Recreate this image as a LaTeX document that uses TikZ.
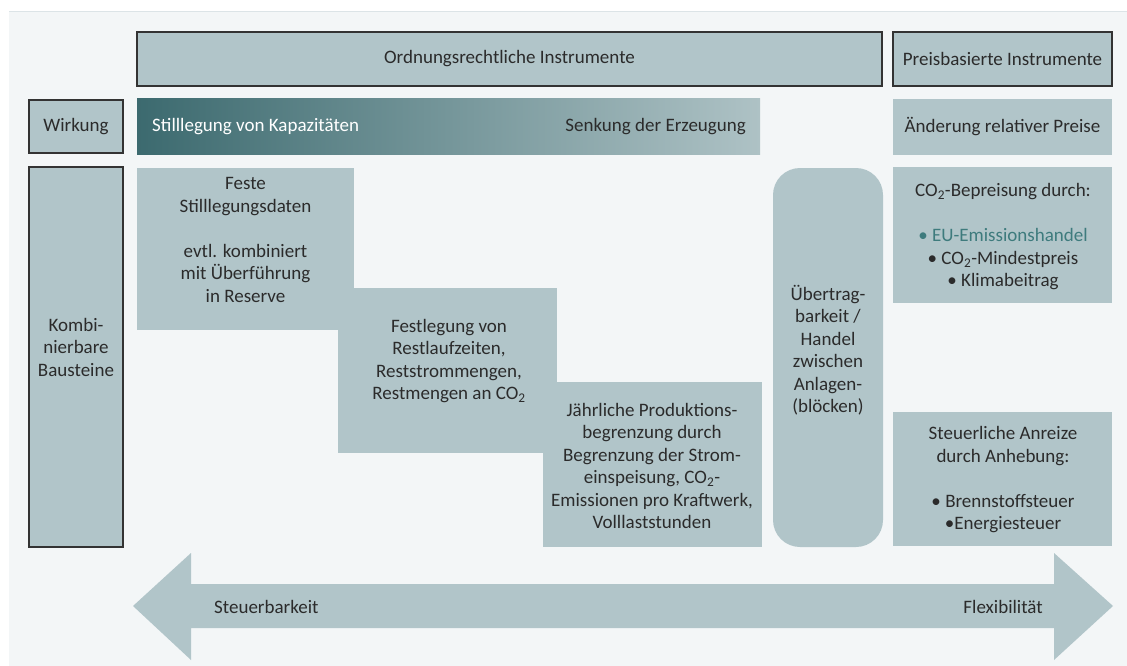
\documentclass[tikz,border=0pt]{standalone}
\usepackage{fontspec}
\setmainfont{Carlito}
\usepackage{tikz}
\usepackage{xcolor}

\definecolor{feldgrau}{HTML}{B1C5C9}
\definecolor{grund}{HTML}{F3F6F7}
\definecolor{linie}{HTML}{DCE4E7}
\definecolor{dunkel}{HTML}{3C6A6F}
\definecolor{hell}{HTML}{AEC2C5}
\definecolor{textgrau}{HTML}{2B2B2B}
\definecolor{rahmengrau}{HTML}{333333}
\definecolor{handel}{HTML}{3E7B7D}

\newcommand{\cozwei}{CO\textsubscript{2}}

\tikzset{
  feld/.style={fill=feldgrau, inner sep=0pt, outer sep=0pt, anchor=north west},
  rahmen/.style={feld, draw=rahmengrau, line width=1.5pt},
  txt/.style={font=\fontsize{19}{22.5}\selectfont, text=textgrau, align=center, inner sep=0pt}
}

\begin{document}
\begin{tikzpicture}[x=1pt,y=-1pt]
\useasboundingbox (0,0) rectangle (1127,666);
\fill [white] (0,0) rectangle (1127,666);
\fill [grund] (9,12) rectangle (1127,666);
\draw [linie, line width=1pt] (9,12) -- (1127,12);

% Kopfzeile
\node [rahmen, txt, minimum width=745pt, minimum height=54pt] (ordnung) at (137,32) {Ordnungsrechtliche Instrumente};
\node [rahmen, txt, minimum width=219pt, minimum height=54pt] (preis) at (893,32) {Preisbasierte Instrumente};

% Wirkung
\node [rahmen, txt, minimum width=94pt, minimum height=53pt] (wirkung) at (29,100) {Wirkung};
\node [feld, left color=dunkel, right color=hell, minimum width=623pt, minimum height=56pt] (balken) at (137,99) {};
\node [txt, text=white, anchor=west] (stilllegung) at (152,127) {Stilllegung von Kapazitäten};
\node [txt, anchor=east] (senkung) at (746,127) {Senkung der Erzeugung};
\node [feld, txt, anchor=north west, minimum width=219pt, minimum height=56pt] (aenderung) at (893,99) {Änderung relativer Preise};

% Bausteine
\node [rahmen, minimum width=94pt, minimum height=380pt] (komb) at (29,167) {};
\node [txt] (kombtxt) at (76,347) {Kombi-\\nierbare\\Bausteine};

\node [feld, minimum width=217pt, minimum height=162pt] (fest) at (137,168) {};
\node [feld, minimum width=219pt, minimum height=165pt] (festl) at (338,288) {};
\node [feld, minimum width=219pt, minimum height=165pt] (jaehr) at (543,382) {};
\node [feld, rounded corners=27pt, minimum width=110pt, minimum height=379pt] (uebertr) at (773,168) {};
\node [feld, minimum width=219pt, minimum height=136pt] (co2) at (893,167) {};
\node [feld, minimum width=219pt, minimum height=134pt] (steuer) at (893,412) {};

\node [txt] (festtxt) at (245.5,240) {Feste\\Stilllegungsdaten\\[22.5pt]evtl. kombiniert\\mit Überführung\\in Reserve};
\node [txt] (festltxt) at (449,361) {Festlegung von\\Restlaufzeiten,\\Reststrommengen,\\Restmengen an \cozwei};
\node [txt] (jaehrtxt) at (652,466) {Jährliche Produktions-\\begrenzung durch\\Begrenzung der Strom-\\einspeisung, \cozwei-\\Emissionen pro Kraftwerk,\\Volllaststunden};
\node [txt] (uebertxt) at (828,350) {Übertrag-\\barkeit /\\Handel\\zwischen\\Anlagen-\\(blöcken)};
\node [txt] (co2txt) at (1003,237) {\cozwei-Bepreisung durch:\\[22.5pt]{\color{handel}\textbullet{} EU-Emissionshandel}\\\textbullet{} \cozwei-Mindestpreis\\\textbullet{} Klimabeitrag};
\node [txt] (steuertxt) at (1003,480) {Steuerliche Anreize\\durch Anhebung:\\[22.5pt]\textbullet{} Brennstoffsteuer\\\textbullet Energiesteuer};

% Doppelpfeil
\fill [feldgrau] (133,606) -- (191,553) -- (191,584) -- (1054,584) -- (1054,553) -- (1113,606)
  -- (1054,660) -- (1054,628) -- (191,628) -- (191,660) -- cycle;
\node [txt, anchor=west] (steuerbarkeit) at (214,607) {Steuerbarkeit};
\node [txt, anchor=east] (flex) at (1043,607) {Flexibilität};

\end{tikzpicture}
\end{document}
